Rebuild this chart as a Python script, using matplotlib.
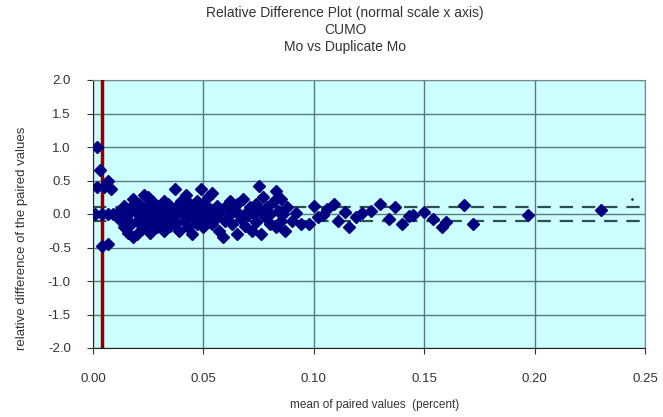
import matplotlib
matplotlib.use("Agg")
import matplotlib.pyplot as plt
from matplotlib.ticker import FormatStrFormatter

plt.rcParams['font.family'] = ['Liberation Sans', 'DejaVu Sans']

title_lines = ["Relative Difference Plot (normal scale x axis)", "CUMO", "Mo vs Duplicate Mo"]
x_label = "mean of paired values  (percent)"
y_label = "relative difference of the paired values"

# points near the detection-limit line
x_low = [0.002, 0.003, 0.002, 0.005, 0.007, 0.008, 0.001, 0.004, 0.007, 0.009, 0.004, 0.007]
y_low = [1.00, 0.65, 0.40, 0.40, 0.50, 0.38, 0.00, 0.00, 0.00, 0.00, -0.48, -0.45]

# dense band
x_mid = [0.012, 0.012, 0.014, 0.014, 0.015, 0.016, 0.016, 0.017, 0.017, 0.018, 0.018,
         0.019, 0.020, 0.020, 0.021, 0.022, 0.022, 0.023, 0.023, 0.024, 0.025, 0.025,
         0.026, 0.026, 0.027, 0.028, 0.028, 0.029, 0.030, 0.030, 0.031, 0.032, 0.032,
         0.033, 0.034, 0.034, 0.035, 0.036, 0.036, 0.037, 0.037, 0.038, 0.038, 0.039,
         0.040, 0.040, 0.041, 0.042, 0.042, 0.043, 0.043, 0.044, 0.045, 0.045, 0.046,
         0.047, 0.047, 0.048, 0.049, 0.049, 0.050, 0.050, 0.051, 0.052, 0.052, 0.053,
         0.054, 0.054, 0.055, 0.056, 0.056, 0.057, 0.058, 0.059, 0.060, 0.060, 0.062,
         0.062, 0.063, 0.064, 0.065, 0.065, 0.066, 0.067, 0.068, 0.069, 0.070, 0.070,
         0.071, 0.072, 0.073, 0.074, 0.074, 0.075, 0.076, 0.076, 0.077, 0.078, 0.079,
         0.080, 0.080, 0.082, 0.083, 0.083, 0.084, 0.085, 0.085, 0.086, 0.087, 0.088,
         0.090, 0.092, 0.094]
y_mid = [0.05, -0.08, 0.12, -0.20, -0.05, 0.00, -0.28, 0.10, -0.15, 0.22, -0.35,
         0.05, -0.10, -0.30, 0.15, 0.02, -0.22, 0.28, -0.05, 0.10, -0.15, 0.25,
         0.00, -0.28, 0.18, -0.08, 0.08, -0.20, 0.12, 0.00, -0.12, 0.20, -0.25,
         0.05, -0.05, 0.15, -0.18, 0.08, -0.02, 0.37, -0.15, 0.00, 0.12, -0.25,
         0.05, 0.20, -0.10, 0.28, 0.00, -0.20, 0.10, 0.15, -0.05, -0.30, 0.05,
         0.20, -0.15, 0.10, -0.02, 0.38, -0.20, 0.15, 0.00, -0.10, 0.25, 0.08,
         0.32, -0.15, 0.00, -0.05, 0.12, -0.25, 0.05, -0.35, 0.10, -0.10, 0.20,
         0.00, -0.15, 0.05, -0.30, 0.15, 0.00, -0.08, 0.22, -0.18, 0.05, -0.02,
         0.10, -0.25, 0.00, 0.15, -0.12, 0.42, 0.05, -0.30, 0.25, -0.05, 0.10,
         -0.15, 0.00, 0.20, 0.35, -0.20, 0.05, 0.22, -0.10, 0.00, -0.25, 0.10,
         -0.10, 0.02, -0.15]

# sparse upper range
x_high = [0.098, 0.100, 0.102, 0.104, 0.106, 0.109, 0.111, 0.114, 0.116, 0.119, 0.122,
          0.126, 0.130, 0.134, 0.137, 0.140, 0.143, 0.145, 0.150, 0.154, 0.158, 0.160,
          0.168, 0.172, 0.197, 0.230]
y_high = [-0.15, 0.12, -0.05, -0.01, 0.08, 0.15, -0.10, 0.03, -0.19, -0.05, 0.01,
          0.05, 0.15, -0.08, 0.10, -0.15, -0.03, -0.02, 0.03, -0.07, -0.19, -0.12,
          0.13, -0.15, -0.02, 0.06]

limit_x = 0.004
precision_band = [0.1, -0.1]
stray_x = [0.244]
stray_y = [0.22]

x_ticks = [0.00, 0.05, 0.10, 0.15, 0.20, 0.25]
y_ticks = [-2.0, -1.5, -1.0, -0.5, 0.0, 0.5, 1.0, 1.5, 2.0]

fig = plt.figure(figsize=(6.63, 4.17), dpi=100)
ax = fig.add_axes([93/663, 1-348/417, (645-93)/663, (348-80)/417])
ax.set_facecolor('#CCFFFF')
ax.set_xlim(0, 0.25)
ax.set_ylim(-2.0, 2.0)
ax.set_xticks(x_ticks)
ax.set_yticks(y_ticks)
ax.xaxis.set_major_formatter(FormatStrFormatter('%.2f'))
ax.yaxis.set_major_formatter(FormatStrFormatter('%.1f'))
ax.grid(True, color='#5a7a78', linewidth=1.0)
ax.set_axisbelow(True)
for s in ['top', 'right']:
    ax.spines[s].set_color('#7a8a8a')
for s in ['left', 'bottom']:
    ax.spines[s].set_color('#222222')
ax.tick_params(axis='both', labelsize=9.5, colors='#333333', length=4, direction='out')
ax.tick_params(axis='x', pad=14)
ax.tick_params(axis='y', pad=12)

for yv in precision_band:
    ax.axhline(yv, color='#2F4F4F', linewidth=1.6, dashes=(6, 4), zorder=2)
ax.axvline(limit_x, color='#8B0000', linewidth=2.5, zorder=3)

all_x = x_low + x_mid + x_high
all_y = y_low + y_mid + y_high
ax.plot(all_x, all_y, linestyle='none', marker='D', markersize=6.5,
        color='#000080', zorder=4)
ax.plot(stray_x, stray_y, linestyle='none', marker='.', markersize=2, color='#333333')

for i, line in enumerate(title_lines):
    fig.text(345/663, 1-(13 + 17*i)/417, line, ha='center', va='center',
             fontsize=10, color='#333333')
fig.text(375/663, 1-405/417, x_label, ha='center', va='center',
         fontsize=8.5, color='#333333')
fig.text(22/663, 1-238/417, y_label, ha='center', va='center', rotation=90,
         fontsize=9.5, color='#333333')

fig.savefig('out.png', dpi=100)
